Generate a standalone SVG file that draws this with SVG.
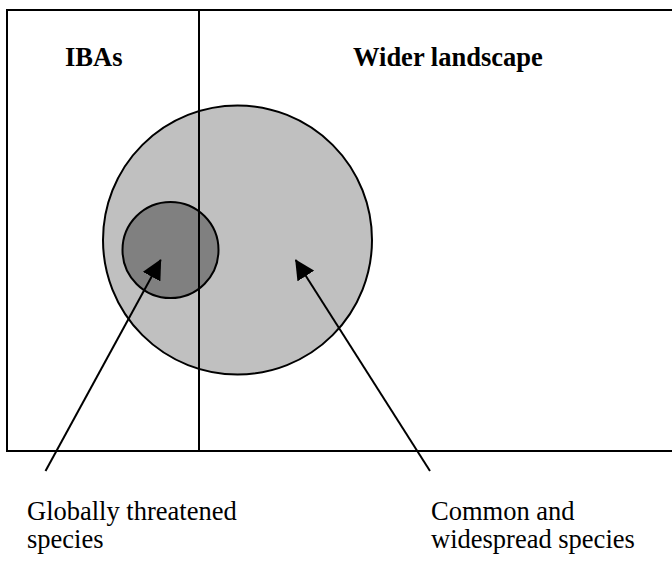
<svg xmlns="http://www.w3.org/2000/svg" width="672" height="563" viewBox="0 0 672 563">
<style>
.frame{fill:none;stroke:#000;stroke-width:2}
.bold{font-weight:bold;font-size:26.5px;fill:#000}
.reg{font-size:26.5px;fill:#000}
.conn{stroke:#000;stroke-width:2;fill:none}
</style>
<defs>
<marker id="ah" markerUnits="userSpaceOnUse" markerWidth="20" markerHeight="20" refX="19" refY="10" orient="auto" viewBox="0 0 20 20">
<path d="M0,0 L20,10 L0,20 z" fill="#000"/>
</marker>
</defs>
<rect width="672" height="563" fill="#fff"/>
<g id="frame">
<rect class="frame" x="7" y="10" width="680" height="441"/>
</g>
<g id="common-species">
<circle cx="237.5" cy="240" r="134.5" fill="#c0c0c0" stroke="#000" stroke-width="2"/>
</g>
<g id="threatened-species">
<circle cx="170.5" cy="250" r="48" fill="#808080" stroke="#000" stroke-width="2"/>
</g>
<g id="divider">
<line class="frame" x1="199" y1="10" x2="199" y2="451"/>
</g>
<g id="labels" font-family="'Liberation Serif', 'Times New Roman', Times, serif">
<text class="bold" x="65" y="66">IBAs</text>
<text class="bold" x="353" y="66">Wider landscape</text>
</g>
<g id="connectors">
<line class="conn" x1="45.5" y1="471" x2="160.7" y2="260" marker-end="url(#ah)"/>
<line class="conn" x1="430" y1="471" x2="295.7" y2="260" marker-end="url(#ah)"/>
</g>
<g id="caption-threatened" font-family="'Liberation Serif', 'Times New Roman', Times, serif">
<text class="reg" x="27" y="520">Globally threatened</text>
<text class="reg" x="27" y="548">species</text>
</g>
<g id="caption-common" font-family="'Liberation Serif', 'Times New Roman', Times, serif">
<text class="reg" x="431" y="520">Common and</text>
<text class="reg" x="431" y="548">widespread species</text>
</g>
</svg>
